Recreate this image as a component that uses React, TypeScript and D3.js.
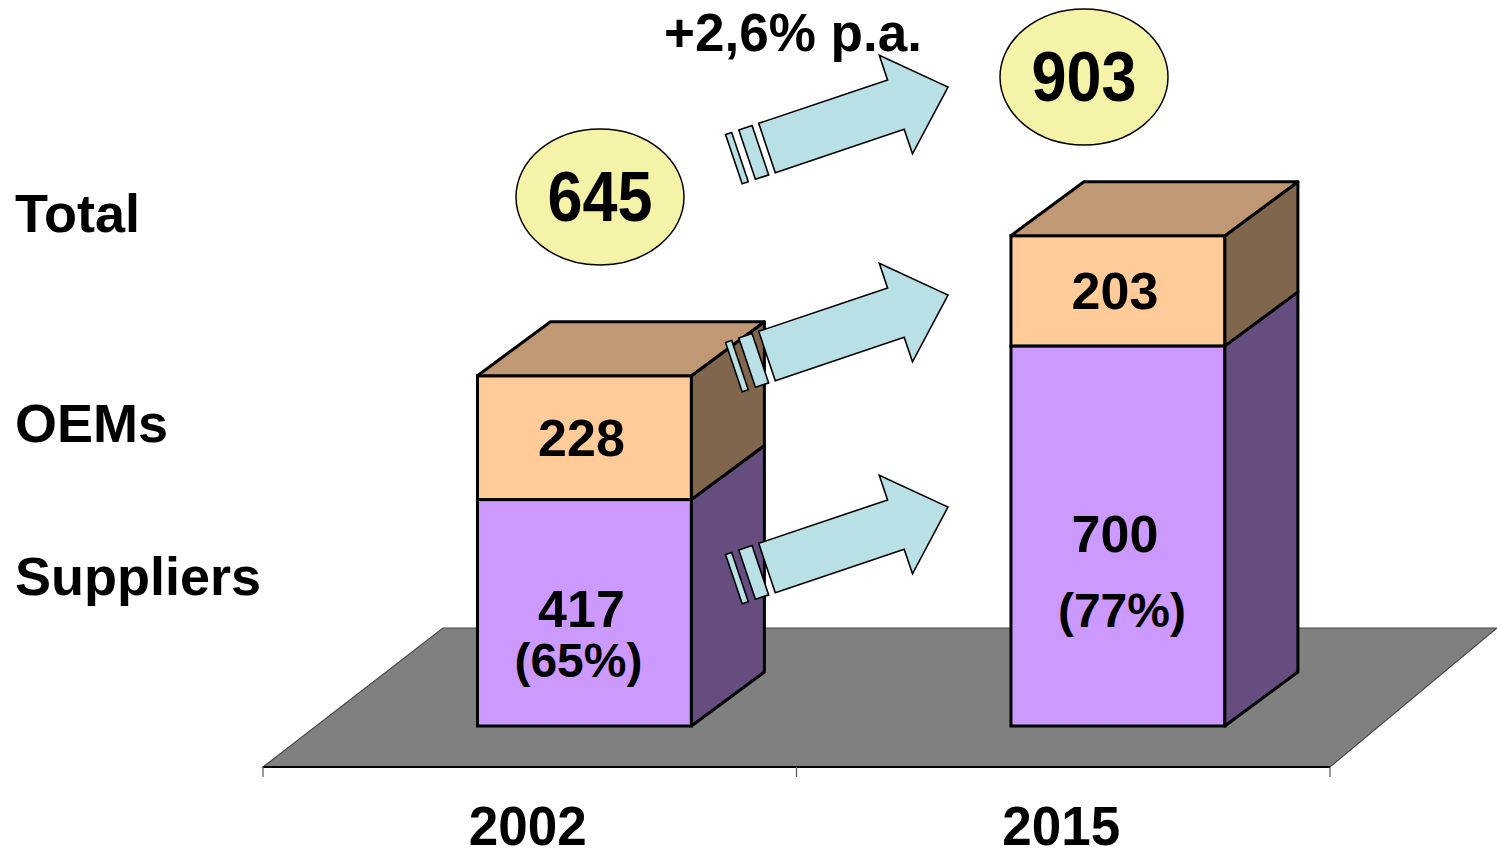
import React from "react";
import * as d3 from "d3";

const years = ["2002", "2015"];
const suppliers = [417, 700];
const oems = [228, 203];
const totals = [645, 903];
const supplierShares = ["(65%)", "(77%)"];
const growthLabel = "+2,6% p.a.";
const rowLabels = ["Total", "OEMs", "Suppliers"];

const W = 1497;
const H = 851;
const FONT = "'Liberation Sans', Arial, Helvetica, sans-serif";
const DX = 73;
const DY = -54;

const C = {
  supFront: "#cc99ff",
  supSide: "#654d80",
  oemFront: "#ffcc99",
  oemTop: "#c09873",
  oemSide: "#80664c",
  floor: "#808080",
  arrow: "#b9e0e4",
  bubble: "#f5f3a8",
};

// layout (annotation placement)
const rowLabelY = [232, 442, 595];
const bubbleCenters = [
  [600, 197],
  [1084, 77],
];
const arrowTails = [148, 356, 568];

function arrowParts(cx: number, cy: number) {
  const ang = Math.atan2(-61, 181);
  const c = Math.cos(ang);
  const s = Math.sin(ang);
  const tf = (u: number, v: number) => [cx + u * c - v * s, cy + u * s + v * c];
  const poly = (pts: number[][]) =>
    pts.map((p) => tf(p[0], p[1]).join(",")).join(" ");
  const hw = 26;
  return [
    poly([
      [0, -hw],
      [136, -hw],
      [136, -52],
      [191, 0],
      [136, 52],
      [136, hw],
      [0, hw],
    ]),
    poly([
      [-21, -hw],
      [-7, -hw],
      [-7, hw],
      [-21, hw],
    ]),
    poly([
      [-35, -hw],
      [-28.5, -hw],
      [-28.5, hw],
      [-35, hw],
    ]),
  ];
}

export default function App() {
  const x = d3.scaleBand<string>().domain(years).range([263, 1330]);
  const bw = x.bandwidth();
  const barW = bw * 0.401;
  const barX = (yr: string) => (x(yr) as number) + bw * 0.402;
  const y = d3.scaleLinear().domain([0, 1000]).range([726, 183]);
  const [x0, x1] = x.range();
  const floorY = 767;
  const floorBackY = 628;
  const tickXs = [x0, ...years.slice(1).map((d) => x(d) as number), x1];

  const pts = (arr: number[][]) => arr.map((p) => p.join(",")).join(" ");

  const bars = years.map((yr, i) => {
    const bx = barX(yr);
    const segs = [
      { v0: 0, v1: suppliers[i], front: C.supFront, side: C.supSide },
      { v0: suppliers[i], v1: suppliers[i] + oems[i], front: C.oemFront, side: C.oemSide },
    ];
    return (
      <g key={yr}>
        {segs.map((sg, j) => (
          <g key={j}>
            <rect
              x={bx}
              y={y(sg.v1)}
              width={barW}
              height={y(sg.v0) - y(sg.v1)}
              fill={sg.front}
              stroke="#000"
              strokeWidth={3}
            />
            <polygon
              points={pts([
                [bx + barW, y(sg.v0)],
                [bx + barW + DX, y(sg.v0) + DY],
                [bx + barW + DX, y(sg.v1) + DY],
                [bx + barW, y(sg.v1)],
              ])}
              fill={sg.side}
              stroke="#000"
              strokeWidth={3}
              strokeLinejoin="round"
            />
          </g>
        ))}
        <polygon
          points={pts([
            [bx, y(totals[i])],
            [bx + DX, y(totals[i]) + DY],
            [bx + barW + DX, y(totals[i]) + DY],
            [bx + barW, y(totals[i])],
          ])}
          fill={C.oemTop}
          stroke="#000"
          strokeWidth={3}
          strokeLinejoin="round"
        />
      </g>
    );
  });

  const textStyle = { fontFamily: FONT, fontWeight: 700 as const, fill: "#000" };

  return (
    <svg
      width={W}
      height={H}
      style={{ position: "absolute", left: 0, top: 0, background: "#fff" }}
    >
      {/* floor */}
      <polygon
        points={pts([
          [x0, floorY],
          [x1, floorY],
          [W, floorBackY],
          [x0 + 180, floorBackY],
        ])}
        fill={C.floor}
        stroke="#4a4a4a"
        strokeWidth={1.2}
      />
      <line x1={x0} x2={x1} y1={floorY} y2={floorY} stroke="#000" strokeWidth={2} />
      {tickXs.map((tx, i) => (
        <line key={i} x1={tx} x2={tx} y1={floorY} y2={floorY + 10} stroke="#555" strokeWidth={1.2} />
      ))}

      {bars}

      {/* arrows */}
      {arrowTails.map((ty, i) =>
        arrowParts(767, ty).map((p, j) => (
          <polygon key={`${i}-${j}`} points={p} fill={C.arrow} stroke="#000" strokeWidth={1.6} strokeLinejoin="miter" />
        ))
      )}

      {/* bubbles */}
      {totals.map((t, i) => (
        <g key={`b${i}`}>
          <ellipse
            cx={bubbleCenters[i][0]}
            cy={bubbleCenters[i][1]}
            rx={84}
            ry={68}
            fill={C.bubble}
            stroke="#000"
            strokeWidth={1.5}
          />
          <text
            transform={`translate(${bubbleCenters[i][0]},${bubbleCenters[i][1] + 24}) scale(1,1.12)`}
            textAnchor="middle"
            fontSize={63}
            style={textStyle}
          >
            {t}
          </text>
        </g>
      ))}

      <text x={793} y={51} textAnchor="middle" fontSize={53} style={textStyle}>
        {growthLabel}
      </text>

      {/* segment labels */}
      {years.map((yr, i) => {
        const cx = barX(yr) + barW / 2;
        const oemMid = (y(suppliers[i]) + y(totals[i])) / 2;
        return (
          <g key={`l${yr}`}>
            <text x={cx - 3} y={oemMid + 18} textAnchor="middle" fontSize={52} style={textStyle}>
              {oems[i]}
            </text>
            <text
              x={cx - 3}
              y={i === 0 ? 627 : 552}
              textAnchor="middle"
              fontSize={52}
              style={textStyle}
            >
              {suppliers[i]}
            </text>
            <text
              x={cx + (i === 0 ? -6 : 4)}
              y={i === 0 ? 677 : 627}
              textAnchor="middle"
              fontSize={48}
              style={textStyle}
            >
              {supplierShares[i]}
            </text>
          </g>
        );
      })}

      {/* category labels */}
      {years.map((yr) => (
        <text
          key={`c${yr}`}
          transform={`translate(${(x(yr) as number) + bw / 2 - 2},845) scale(1,1.06)`}
          textAnchor="middle"
          fontSize={53}
          style={textStyle}
        >
          {yr}
        </text>
      ))}

      {/* row labels */}
      {rowLabels.map((l, i) => (
        <text key={l} x={15} y={rowLabelY[i]} fontSize={54} style={textStyle}>
          {l}
        </text>
      ))}
    </svg>
  );
}
